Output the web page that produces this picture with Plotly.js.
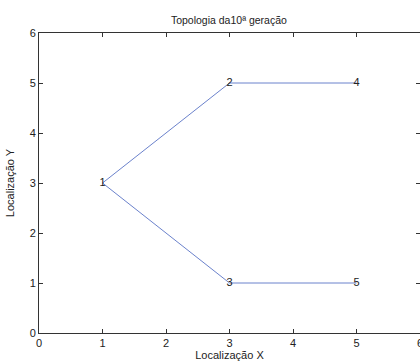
<!DOCTYPE html>
<html><head><meta charset="utf-8">
<script src="https://cdn.plot.ly/plotly-3.0.1.min.js"></script>
<style>html,body{margin:0;padding:0;background:#fff}#c{width:420px;height:363px}</style>
</head><body><div id="c"></div>
<script>
const nodeIds = ['1','2','3','4','5'];
const nodeX = [1, 3, 3, 5, 5];
const nodeY = [3, 5, 1, 5, 1];
const edgeFrom = [1, 1, 2, 3];
const edgeTo = [2, 3, 4, 5];
const xTicks = [0, 1, 2, 3, 4, 5, 6];
const yTicks = [0, 1, 2, 3, 4, 5, 6];

const ex = [], ey = [];
for (let i = 0; i < edgeFrom.length; i++) {
  const a = edgeFrom[i] - 1, b = edgeTo[i] - 1;
  ex.push(nodeX[a], nodeX[b], null);
  ey.push(nodeY[a], nodeY[b], null);
}
const font = {family: 'Liberation Sans, Arial, sans-serif', size: 11, color: '#222'};
const traces = [
  {x: ex, y: ey, mode: 'lines', line: {color: '#6b82cc', width: 1}, hoverinfo: 'none', showlegend: false},
  {x: nodeX, y: nodeY, mode: 'text', text: nodeIds, textposition: 'middle center',
   textfont: {family: font.family, size: 11, color: '#222'}, showlegend: false, hoverinfo: 'none'}
];
const axisCommon = {
  showgrid: false, zeroline: false, showline: true, mirror: 'ticks', linecolor: '#333', linewidth: 1,
  ticks: 'inside', ticklen: 4, tickcolor: '#333', tickfont: font, ticklabeloverflow: 'allow'
};
const layout = {
  width: 420, height: 363,
  margin: {l: 39, r: 0, t: 33, b: 30, pad: 0},
  paper_bgcolor: '#fff', plot_bgcolor: '#fff',
  font: font,
  title: {text: 'Topologia da10ª geração', font: {family: font.family, size: 10.5, color: '#222'}, x: 0.545, xanchor: 'center', y: 0.945, yanchor: 'middle'},
  xaxis: Object.assign({}, axisCommon, {range: [0, 6], tickvals: xTicks, ticktext: xTicks.map(String),
    title: {text: 'Localização X', font: {family: font.family, size: 11, color: '#222'}, standoff: 3}}),
  yaxis: Object.assign({}, axisCommon, {range: [0, 6], tickvals: yTicks, ticktext: yTicks.map(String),
    title: {text: 'Localização Y', font: {family: font.family, size: 11, color: '#222'}, standoff: 12}})
};
Plotly.newPlot('c', traces, layout, {displayModeBar: false, staticPlot: true});
</script></body></html>
